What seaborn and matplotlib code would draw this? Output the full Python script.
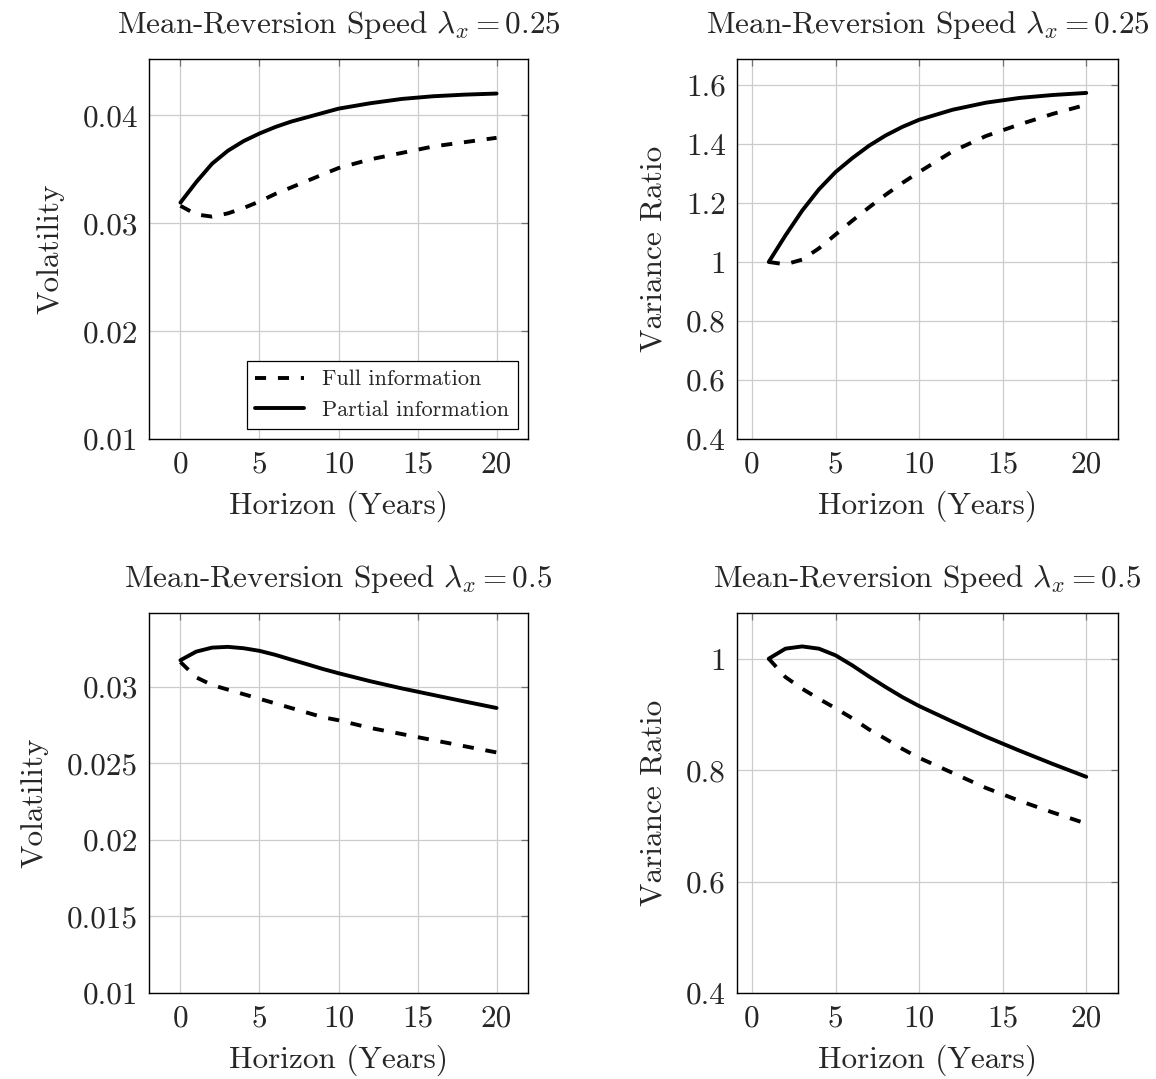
#!/usr/bin/env python3
import matplotlib
matplotlib.use("Agg")
import matplotlib.pyplot as plt
import seaborn as sns
import pandas as pd

sns.set_style("white")
plt.rcParams['font.family'] = ['cmr10']
plt.rcParams['mathtext.fontset'] = 'cm'
plt.rcParams['axes.formatter.use_mathtext'] = True
plt.rcParams['lines.scale_dashes'] = False

FS = 22.5

# horizon grids (years)
horizon_vol = [0, 1, 2, 3, 4, 5, 6, 7, 8, 9, 10, 12, 14, 16, 18, 20]
horizon_vr = [1, 2, 3, 4, 5, 6, 7, 8, 9, 10, 12, 14, 16, 18, 20]

# lambda_x = 0.25
vol_full_025 = [0.0316, 0.0308, 0.0306, 0.0309, 0.0314, 0.0320, 0.0327, 0.0333,
                0.0339, 0.0345, 0.0351, 0.0359, 0.0365, 0.0371, 0.0375, 0.0379]
vol_partial_025 = [0.0319, 0.0338, 0.0355, 0.0367, 0.0376, 0.0383, 0.0389, 0.0394,
                   0.0398, 0.0402, 0.0406, 0.0411, 0.0415, 0.04175, 0.0419, 0.0420]
vr_full_025 = [1.0, 0.992, 1.008, 1.046, 1.093, 1.140, 1.185, 1.228, 1.268, 1.305,
               1.375, 1.427, 1.466, 1.502, 1.533]
vr_partial_025 = [1.0, 1.09, 1.174, 1.246, 1.305, 1.352, 1.394, 1.429, 1.458, 1.482,
                  1.516, 1.540, 1.556, 1.566, 1.573]

# lambda_x = 0.5
vol_full_05 = [0.0316, 0.0306, 0.0301, 0.0298, 0.0295, 0.0292, 0.0289, 0.0286,
               0.0283, 0.0280, 0.0278, 0.0273, 0.0269, 0.0265, 0.0261, 0.0257]
vol_partial_05 = [0.03172, 0.03228, 0.03254, 0.03259, 0.0325, 0.03233, 0.03207, 0.03176,
                  0.03146, 0.03115, 0.03087, 0.03035, 0.02988, 0.02945, 0.02902, 0.0286]
vr_full_05 = [1.0, 0.967, 0.946, 0.928, 0.911, 0.893, 0.873, 0.856, 0.838, 0.822,
              0.795, 0.768, 0.745, 0.724, 0.704]
vr_partial_05 = [1.0, 1.018, 1.022, 1.018, 1.006, 0.988, 0.968, 0.949, 0.931, 0.915,
                 0.887, 0.860, 0.835, 0.811, 0.788]

titles = [r'Mean-Reversion Speed $\lambda_x = 0.25$', r'Mean-Reversion Speed $\lambda_x = 0.25$',
          r'Mean-Reversion Speed $\lambda_x = 0.5$', r'Mean-Reversion Speed $\lambda_x = 0.5$']
ylabels = ['Volatility', 'Variance Ratio', 'Volatility', 'Variance Ratio']
yticks = [[0.01, 0.02, 0.03, 0.04],
          [0.4, 0.6, 0.8, 1.0, 1.2, 1.4, 1.6],
          [0.01, 0.015, 0.02, 0.025, 0.03],
          [0.4, 0.6, 0.8, 1.0]]
yticklabels = [['0.01', '0.02', '0.03', '0.04'],
               ['0.4', '0.6', '0.8', '1', '1.2', '1.4', '1.6'],
               ['0.01', '0.015', '0.02', '0.025', '0.03'],
               ['0.4', '0.6', '0.8', '1']]
ylims = [(0.01, 0.0452), (0.4, 1.688), (0.01, 0.0348), (0.4, 1.082)]
xlims = [(-1.99, 21.99), (-0.9, 21.9), (-1.99, 21.99), (-0.9, 21.9)]

panels = [
    (horizon_vol, vol_full_025, vol_partial_025),
    (horizon_vr, vr_full_025, vr_partial_025),
    (horizon_vol, vol_full_05, vol_partial_05),
    (horizon_vr, vr_full_05, vr_partial_05),
]

fig = plt.figure(figsize=(11.56, 10.79), dpi=100)
W, H = 1156., 1079.
boxes = [(149, 59, 528, 439), (737, 59, 1118, 439),
         (149, 613, 528, 993), (737, 613, 1118, 993)]
axs = [fig.add_axes([l / W, 1 - b / H, (r - l) / W, (b - t) / H]) for (l, t, r, b) in boxes]

dash_map = {'Full information': (8, 8.5), 'Partial information': ''}

for i, ax in enumerate(axs):
    x, full, partial = panels[i]
    df = pd.concat([
        pd.DataFrame({'horizon': x, 'value': full, 'info': 'Full information'}),
        pd.DataFrame({'horizon': x, 'value': partial, 'info': 'Partial information'}),
    ])
    sns.lineplot(data=df, x='horizon', y='value', style='info', dashes=dash_map,
                 color='black', lw=2.8, ax=ax, legend=False)
    ax.set_xlim(xlims[i])
    ax.set_ylim(ylims[i])
    ax.set_xticks([0, 5, 10, 15, 20])
    ax.set_xticklabels(['0', '5', '10', '15', '20'])
    ax.set_yticks(yticks[i])
    ax.set_yticklabels(yticklabels[i])
    ax.grid(True, color='#cccccc', lw=0.9)
    ax.set_axisbelow(True)
    ax.tick_params(direction='in', length=5, width=0.9, color='0.45',
                   top=True, right=True, labelsize=FS, pad=8)
    for s in ax.spines.values():
        s.set_color('black')
        s.set_linewidth(1.0)
    ax.set_xlabel('Horizon (Years)', fontsize=FS, labelpad=9)
    ax.set_ylabel(ylabels[i], fontsize=FS, labelpad=13)
    ax.set_title(titles[i], fontsize=FS, pad=19)

    if i == 0:
        h1, = ax.plot([], [], color='black', lw=2.8, dashes=(8, 8.5))
        h2, = ax.plot([], [], color='black', lw=2.8)
        leg = ax.legend([h1, h2], ['Full information', 'Partial information'],
                        loc='lower right', fontsize=16, fancybox=False, framealpha=1,
                        edgecolor='black', handlelength=2.2, borderaxespad=0.45,
                        labelspacing=0.5)
        leg.get_frame().set_linewidth(0.9)

fig.savefig('out.png', dpi=100)
